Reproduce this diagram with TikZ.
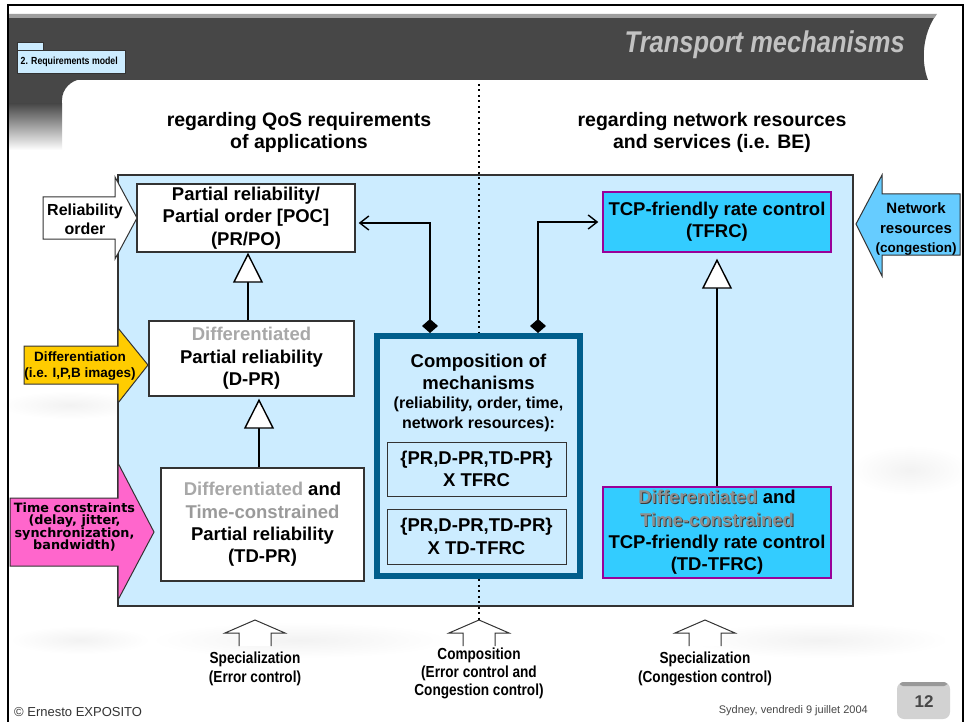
\documentclass[tikz,border=0pt]{standalone}
\usepackage{fontspec}
\setmainfont{Liberation Sans}
\newfontfamily\narrowsans[FakeStretch=0.85]{Liberation Sans}
\newfontfamily\widesans{DejaVu Sans}
\usetikzlibrary{arrows.meta,calc}

\definecolor{paleblue}{HTML}{CCECFF}
\definecolor{tfrccyan}{HTML}{33CCFF}
\definecolor{purpleline}{HTML}{990099}
\definecolor{compblue}{HTML}{005E8C}
\definecolor{bandgray}{HTML}{474747}
\definecolor{stripegray}{HTML}{9E9E9E}
\definecolor{titlegray}{HTML}{C2C2C2}
\definecolor{diffgray}{HTML}{A8A8A8}
\definecolor{timegray}{HTML}{9A9A9A}
\definecolor{embgray}{HTML}{8E8E8E}
\definecolor{embshadow}{HTML}{3A3A3A}
\definecolor{arrowyellow}{HTML}{FFCC00}
\definecolor{arrowpink}{HTML}{FF66CC}
\definecolor{arrownet}{HTML}{66CCFF}
\definecolor{edgegray}{HTML}{333333}
\definecolor{pagegray}{HTML}{D2D2D2}

% font size given in picture units (1pt per unit)
\newcommand\pxsize[2]{\fontsize{#1}{#2}\selectfont}
% grey lettering with a dark drop shadow
\newcommand\embtext[1]{\leavevmode\rlap{\kern0.9pt\raisebox{-0.9pt}{\textcolor{embshadow}{#1}}}\textcolor{embgray}{#1}}

\begin{document}
\begin{tikzpicture}[x=1pt,y=-1pt,
  boxtext/.style={align=center, inner sep=0pt, font=\bfseries\pxsize{18.5}{22.3}},
  whitebox/.style={boxtext, draw=edgegray, line width=1.4pt, fill=white},
  cyanbox/.style={boxtext, draw=purpleline, line width=1.4pt, fill=tfrccyan},
  compbox/.style={draw=compblue, line width=6pt, fill=paleblue, inner sep=0pt},
  combobox/.style={boxtext, draw=edgegray, line width=1pt, fill=paleblue},
  blockarrow/.style={draw=edgegray, line width=1pt, line join=miter},
  conn/.style={draw=black, line width=1.4pt},
  header/.style={align=center, inner sep=0pt, font=\bfseries\pxsize{19.5}{21.5}},
  arrowlabel/.style={align=center, inner sep=0pt},
  caption/.style={align=center, inner sep=0pt, font=\narrowsans\bfseries\pxsize{16}{18.3}},
  cloud/.style={inner color=black!5, outer color=white},
  dotline/.style={black, line width=2pt, dash pattern=on 2pt off 3.5pt},
]
\useasboundingbox (0,0) rectangle (966,722);
\fill[white] (0,0) rectangle (966,722);

% faint clouds in the background
\shade[cloud] (70,405) ellipse (70 and 14);
\shade[cloud] (300,640) ellipse (150 and 18);
\shade[cloud] (820,640) ellipse (130 and 18);
\shade[cloud] (910,470) ellipse (60 and 25);
\shade[cloud] (80,640) ellipse (70 and 14);

% title band
\fill[bandgray] (8,15) -- (936,15) .. controls (922,35) and (921,62) .. (928,80) -- (8,80) -- cycle;
\fill[stripegray] (8,14) -- (937,14) -- (934,18) -- (8,18) -- cycle;
\fill[bandgray] (8,79) rectangle (62,104);
\shade[top color=bandgray, bottom color=white] (8,103.5) rectangle (62,150);
\fill[bandgray] (62,79) -- (82,79) .. controls (71,80) and (62,89) .. (62,100) -- cycle;

% section tab and label
\node[draw=edgegray, line width=0.8pt, fill=paleblue, minimum width=26pt, minimum height=8pt, inner sep=0pt] (reqtab) at (30,46) {};
\node[draw=edgegray, line width=0.8pt, fill=paleblue, minimum width=108pt, minimum height=23pt, inner sep=0pt] (req) at (71,61.5) {};
\node[anchor=east, inner sep=0pt, font=\narrowsans\bfseries\pxsize{10.3}{12}] (reqlabel) at (118,62) {2. Requirements model};

\node[anchor=east, inner sep=0pt, text=titlegray, font=\narrowsans\bfseries\itshape\pxsize{30}{32}] (title) at (905,45) {Transport mechanisms};

% outer frame
\draw[black, line width=2pt] (8,722) -- (8,5) -- (963,5) -- (963,722);

% column headers
\node[header] (hleft) at (299,132.5) {regarding QoS requirements\\of applications};
\node[header] (hright) at (712,132.5) {regarding network resources\\and services (i.e. BE)};

% main panel
\draw[draw=edgegray, line width=1.5pt, fill=paleblue] (118,175) rectangle (853,606);

% divider
\draw[dotline] (479,84) -- (479,620);

% error-control mechanisms
\node[whitebox, minimum width=218pt, minimum height=68pt] (prpo) at (246,218) {Partial reliability/\\Partial order [POC]\\(PR/PO)};
\node[whitebox, minimum width=205pt, minimum height=75pt] (dpr) at (251.5,358.5) {\textcolor{diffgray}{Differentiated}\\Partial reliability\\(D-PR)};
\node[whitebox, minimum width=203pt, minimum height=113pt] (tdpr) at (262.5,524.5) {\textcolor{diffgray}{Differentiated} and\\\textcolor{timegray}{Time-constrained}\\Partial reliability\\(TD-PR)};

% congestion-control mechanisms
\node[cyanbox, minimum width=228pt, minimum height=60pt] (tfrc) at (717,222) {TCP-friendly rate control\\(TFRC)};
\node[cyanbox, minimum width=228pt, minimum height=91pt] (tdtfrc) at (717,532.5) {\embtext{Differentiated} and\\\embtext{Time-constrained}\\TCP-friendly rate control\\(TD-TFRC)};

% composition
\node[compbox, minimum width=203pt, minimum height=240pt] (comp) at (478.5,456) {};
\node[boxtext] (comptitle) at (478.5,372) {Composition of\\mechanisms};
\node[align=center, inner sep=0pt, font=\bfseries\pxsize{16}{20}] (compsub) at (478.5,414) {(reliability, order, time,\\network resources):};
\node[combobox, minimum width=179pt, minimum height=54pt] (combA) at (476.5,469) {\{PR,D-PR,TD-PR\}\\X TFRC};
\node[combobox, minimum width=179pt, minimum height=55pt] (combB) at (476.5,536.5) {\{PR,D-PR,TD-PR\}\\X TD-TFRC};

% generalisation links
\coordinate (gA) at (248,0);
\coordinate (gB) at (259,0);
\draw[conn, -{Triangle[length=30pt,width=30pt,fill=white]}] (dpr.north -| gA) -- (prpo.south -| gA);
\draw[conn, shorten >=2pt, -{Triangle[length=30pt,width=30pt,fill=white]}] (tdpr.north -| gB) -- (dpr.south -| gB);
\draw[conn, shorten >=6pt, -{Triangle[length=30pt,width=30pt,fill=white]}] (tdtfrc.north) -- (tfrc.south);

% composition links
\coordinate (dA) at (430,0);
\coordinate (dB) at (538,0);
\draw[conn, shorten >=3pt, {Diamond[length=14pt,width=16pt]}-{Straight Barb[length=9pt,width=14pt]}] (comp.north -| dA) |- ([yshift=-5pt]prpo.east);
\draw[conn, shorten >=4pt, {Diamond[length=14pt,width=16pt]}-{Straight Barb[length=9pt,width=14pt]}] (comp.north -| dB) |- (tfrc.west);

% incoming requirements
\draw[blockarrow, fill=white] (43,197) -- (115,197) -- (115,177) -- (137,218) -- (115,259) -- (115,239) -- (43,239) -- cycle;
\node[arrowlabel, font=\bfseries\pxsize{16}{19}] (relord) at (85,219) {Reliability\\order};

\draw[blockarrow, fill=arrowyellow] (24,346) -- (118,346) -- (118,328) -- (148,365) -- (118,403) -- (118,384) -- (24,384) -- cycle;
\node[arrowlabel, font=\bfseries\pxsize{13.5}{16.5}] (diffin) at (80,366) {Differentiation\\(i.e. I,P,B images)};

\draw[blockarrow, fill=arrowpink] (10,498) -- (118,498) -- (118,463) -- (154,532) -- (118,600) -- (118,566) -- (10,566) -- cycle;
\node[arrowlabel, font=\widesans\bfseries\pxsize{12.8}{12.5}] (timein) at (74.5,527) {Time constraints\\(delay, jitter,\\synchronization,\\bandwidth)};

\draw[blockarrow, fill=arrownet] (960,194) -- (882,194) -- (882,175) -- (856,224) -- (882,276) -- (882,255) -- (960,255) -- cycle;
\node[arrowlabel, font=\bfseries\pxsize{15}{19.5}] (netin) at (916,229) {Network\\resources\\{\pxsize{13.5}{19.5}(congestion)}};

% relation markers under the panel
\foreach \cx in {255,479,705} {
  \draw[blockarrow, fill=white] (\cx-16,646) -- (\cx-16,633) -- (\cx-30,633) -- (\cx,620) -- (\cx+30,633) -- (\cx+16,633) -- (\cx+16,646);
}
\node[caption] (capA) at (255,669) {Specialization\\(Error control)};
\node[caption] (capB) at (479,673.5) {Composition\\(Error control and\\Congestion control)};
\node[caption] (capC) at (705,669) {Specialization\\(Congestion control)};

% footer
\node[anchor=west, inner sep=0pt, text=black!80, font=\pxsize{13}{15}] (author) at (14,712) {© Ernesto EXPOSITO};
\node[anchor=east, inner sep=0pt, text=black!72, font=\pxsize{11}{13}] (place) at (868,711) {Sydney, vendredi 9 juillet 2004};
\fill[pagegray, rounded corners=7pt] (897,682) rectangle (950,719);
\fill[black!40, rounded corners=3pt] (900,682) rectangle (947,686);
\node[inner sep=0pt, text=black!72, font=\bfseries\pxsize{17}{19}] (pageno) at (924,702) {12};
\end{tikzpicture}
\end{document}
